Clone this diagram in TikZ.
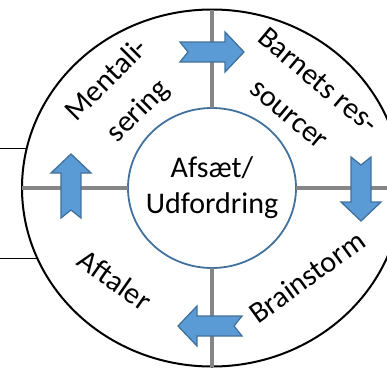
\documentclass[tikz,border=0pt]{standalone}
\usepackage{fontspec}
\setmainfont{Carlito}
\usepackage{tikz}
\usepackage{xcolor}
\usetikzlibrary{shapes.geometric}
\definecolor{arrowfill}{RGB}{91,155,213}
\definecolor{arrowline}{RGB}{65,113,156}
\definecolor{axisgray}{RGB}{134,134,134}

\begin{document}
\begin{tikzpicture}[x=1pt,y=1pt,
  axis/.style={draw=axisgray,line width=4pt},
  ringlabel/.style={font=\fontsize{30}{44}\selectfont,align=center,inner sep=0pt},
  pics/cyclearrow/.style={code={\draw[fill=arrowfill,draw=arrowline,line width=1.3pt,line join=miter] (-32,10) -- (13,10) -- (13,20) -- (32,0) -- (13,-20) -- (13,-10) -- (-32,-10) -- (-24,0) -- cycle;}}]
\useasboundingbox (-212,-180) rectangle (175,188);
\coordinate (edge) at (-212,0);
\node[ellipse,draw,line width=2pt,minimum width=380pt,minimum height=357pt,outer sep=0pt] (ring) at (0,0) {};
\node[ellipse,draw=arrowline,line width=1.8pt,minimum width=168pt,minimum height=160pt,inner sep=0pt,outer sep=0pt] (core) at (0,0) {};
\node[align=center,inner sep=0pt,font=\fontsize{30}{36}\selectfont] (coretext) at (core.center) {Afsæt/\\Udfordring};
\draw[axis] (ring.west) -- (core.west);
\draw[axis] (core.east) -- (ring.east);
\draw[axis] (ring.north) -- (core.north);
\draw[axis] (core.south) -- (ring.south);
\draw[line width=1.5pt] (ring.168) -- (ring.168 -| edge);
\draw[line width=1.5pt] (ring.202) -- (ring.202 -| edge);
\pic at (0,136) {cyclearrow};
\pic[rotate=-90] at (149,-1) {cyclearrow};
\pic[rotate=180] at (-2,-138) {cyclearrow};
\pic[rotate=90] at (-141,2) {cyclearrow};
\node[ringlabel,rotate=45] (mental) at (-89,92) {Mentali-\\sering};
\node[ringlabel,rotate=-40] (barn) at (92,91) {Barnets res-\\sourcer};
\node[ringlabel,rotate=36] (brain) at (95,-89) {Brainstorm};
\node[ringlabel,rotate=-35] (aftal) at (-97,-92) {Aftaler};
\end{tikzpicture}
\end{document}
